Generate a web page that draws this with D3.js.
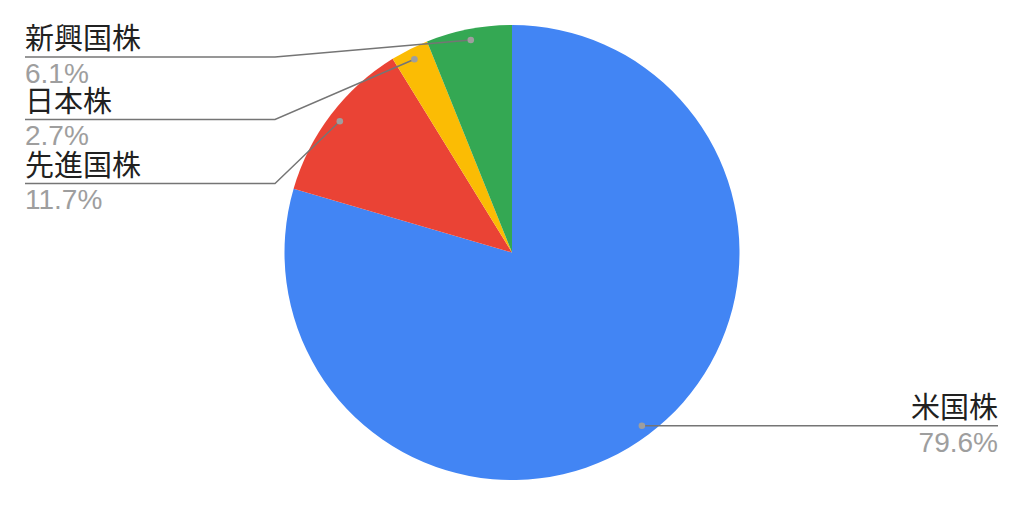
<!DOCTYPE html>
<html><head><meta charset="utf-8">
<script src="https://cdn.jsdelivr.net/npm/d3@7"></script>
<style>body{margin:0;background:#fff;}svg{display:block;}</style>
</head><body>
<svg id="c" width="1024" height="505"></svg>
<script>
const categories = ["米国株", "先進国株", "日本株", "新興国株"];
const values = [79.6, 11.7, 2.7, 6.1];
const percentLabels = ["79.6%", "11.7%", "2.7%", "6.1%"];
const colors = ["#4285F4", "#EA4335", "#FBBC04", "#34A853"];

const svg = d3.select("#c");
const cx = 512, cy = 252.5, R = 227.5, dotR = 216.5;
const pie = d3.pie().sort(null).value(d => d)(values);
const arc = d3.arc().innerRadius(0).outerRadius(R);
const g = svg.append("g").attr("transform", `translate(${cx},${cy})`);
g.selectAll("path").data(pie).join("path")
  .attr("d", arc).attr("fill", (d, i) => colors[i]);

// label layout: side and underline y for each category
const layout = [
  {side: "right", uy: 426},
  {side: "left", uy: 183.5},
  {side: "left", uy: 119.5},
  {side: "left", uy: 57}
];
pie.forEach((d, i) => {
  const mid = (d.startAngle + d.endAngle) / 2;
  const px = cx + dotR * Math.sin(mid), py = cy - dotR * Math.cos(mid);
  const L = layout[i];
  let pts;
  if (L.side === "left") pts = [[25, L.uy], [275, L.uy], [px, py]];
  else pts = [[px, py], [998, py]];
  svg.append("path").attr("d", d3.line()(pts))
    .attr("fill", "none").attr("stroke", "#757575").attr("stroke-width", 1.4);
  svg.append("circle").attr("cx", px).attr("cy", py).attr("r", 3.3).attr("fill", "#9e9e9e");
  const tx = L.side === "left" ? 25 : 998;
  const anchor = L.side === "left" ? "start" : "end";
  svg.append("text").attr("x", tx).attr("y", L.uy - 8)
    .attr("text-anchor", anchor)
    .attr("font-family", "'Noto Sans CJK JP', 'Noto Sans', sans-serif")
    .attr("font-size", 29).attr("fill", "#212121").text(categories[i]);
  svg.append("text").attr("x", tx).attr("y", L.uy + 25.5)
    .attr("text-anchor", anchor)
    .attr("font-family", "'Liberation Sans', Arial, sans-serif")
    .attr("font-size", 28).attr("fill", "#9e9e9e").text(percentLabels[i]);
});
</script>
</body></html>
